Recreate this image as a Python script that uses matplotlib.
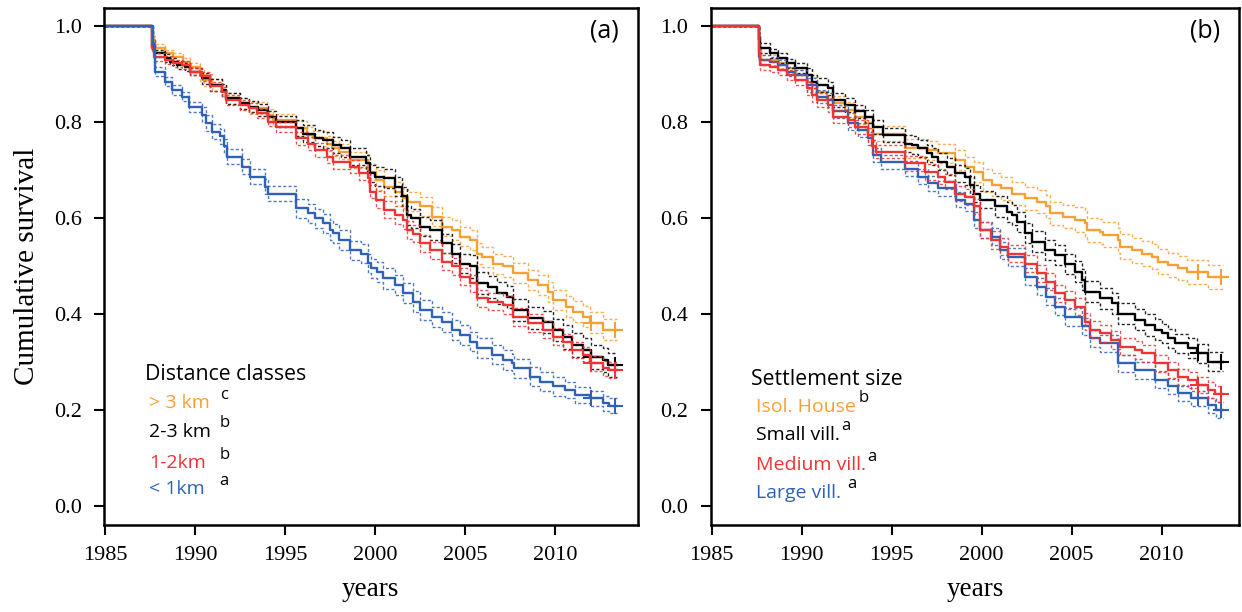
import numpy as np
import matplotlib
matplotlib.use("Agg")
import matplotlib.pyplot as plt

# Kaplan-Meier step curves: (year, survival) at each drop
# panel (a): distance classes
a_far_t = [1985, 1987.57, 1987.65, 1987.75, 1988.3, 1988.77, 1989.3, 1989.7, 1990.25, 1990.5, 1990.9,
           1991.45, 1991.7, 1992.47, 1993.0, 1993.95, 1994.3, 1995.6, 1996.2, 1996.55, 1997.3, 1997.56,
           1998.0, 1998.6, 1999.6, 2000.05, 2000.5, 2001.08, 2001.54, 2001.8, 2002.47, 2003.12, 2003.68,
           2004.23, 2004.7, 2005.25, 2005.62, 2005.9, 2006.55, 2007.1, 2007.66, 2008.5, 2009.05, 2009.6,
           2009.88, 2010.6, 2011.0, 2011.55, 2011.92, 2012.66, 2013.4]
a_far_s = [1.0, 0.985, 0.971, 0.954, 0.943, 0.936, 0.926, 0.915, 0.898, 0.888, 0.877,
           0.867, 0.849, 0.839, 0.829, 0.815, 0.804, 0.787, 0.773, 0.766, 0.755, 0.745,
           0.738, 0.721, 0.696, 0.679, 0.665, 0.655, 0.641, 0.634, 0.624, 0.603, 0.582,
           0.575, 0.561, 0.554, 0.526, 0.519, 0.505, 0.499, 0.485, 0.471, 0.460, 0.446,
           0.429, 0.415, 0.405, 0.394, 0.382, 0.367, 0.367]

a_mid_t = [1985, 1987.6, 1987.72, 1988.3, 1988.6, 1988.95, 1989.4, 1989.7, 1990.34, 1990.8, 1991.45,
           1991.7, 1992.47, 1993.0, 1993.5, 1994.05, 1994.5, 1995.6, 1996.0, 1996.64, 1997.1, 1997.65,
           1998.1, 1998.6, 1999.5, 1999.7, 2000.0, 2000.5, 2001.08, 2001.45, 2001.73, 2002.0, 2002.47,
           2003.03, 2003.68, 2004.23, 2004.7, 2005.25, 2005.62, 2006.27, 2006.73, 2007.29, 2007.66,
           2008.5, 2009.32, 2009.88, 2010.43, 2010.9, 2011.55, 2012.0, 2012.66, 2012.93, 2013.4]
a_mid_s = [1.0, 0.957, 0.943, 0.933, 0.926, 0.919, 0.915, 0.905, 0.891, 0.877, 0.867,
           0.849, 0.839, 0.832, 0.825, 0.811, 0.801, 0.787, 0.776, 0.766, 0.762, 0.752,
           0.745, 0.728, 0.714, 0.693, 0.686, 0.683, 0.665, 0.645, 0.606, 0.599, 0.582,
           0.575, 0.547, 0.526, 0.505, 0.499, 0.464, 0.457, 0.443, 0.436, 0.408,
           0.391, 0.384, 0.367, 0.353, 0.335, 0.325, 0.311, 0.304, 0.294, 0.294]

a_near_t = [1985, 1987.6, 1987.72, 1988.3, 1988.77, 1989.23, 1989.7, 1990.34, 1990.8, 1991.45, 1991.7,
            1992.47, 1993.0, 1993.4, 1994.05, 1994.5, 1995.6, 1996.27, 1996.64, 1997.3, 1997.65, 1998.6,
            1999.1, 1999.6, 1999.7, 2000.05, 2000.5, 2001.08, 2001.54, 2001.73, 2002.1, 2002.47, 2003.03,
            2003.68, 2004.23, 2004.7, 2005.25, 2005.62, 2006.27, 2007.1, 2007.66, 2008.5, 2009.32,
            2009.88, 2010.43, 2010.9, 2011.55, 2011.92, 2012.66, 2013.0, 2013.4]
a_near_s = [1.0, 0.954, 0.936, 0.929, 0.922, 0.919, 0.905, 0.895, 0.874, 0.863, 0.846,
            0.835, 0.829, 0.818, 0.801, 0.790, 0.766, 0.755, 0.742, 0.728, 0.717, 0.707,
            0.693, 0.683, 0.655, 0.638, 0.617, 0.606, 0.596, 0.575, 0.567, 0.547, 0.533,
            0.509, 0.499, 0.478, 0.464, 0.433, 0.426, 0.419, 0.394, 0.381, 0.367,
            0.353, 0.342, 0.325, 0.315, 0.297, 0.287, 0.283, 0.283]

a_close_t = [1985, 1987.62, 1987.75, 1988.3, 1988.68, 1989.23, 1989.66, 1990.34, 1990.6, 1990.9, 1991.36,
             1991.6, 1991.77, 1992.57, 1993.03, 1993.86, 1994.05, 1995.6, 1996.27, 1996.64, 1997.1,
             1997.47, 1997.65, 1998.0, 1998.6, 1999.2, 1999.6, 1999.75, 2000.1, 2000.43, 2001.08,
             2001.54, 2002.1, 2002.47, 2003.12, 2003.68, 2004.23, 2004.7, 2005.25, 2005.62, 2006.46,
             2007.1, 2007.57, 2007.7, 2008.58, 2009.14, 2009.88, 2010.53, 2011.08, 2011.92, 2012.66,
             2013.0, 2013.4]
a_close_s = [1.0, 0.960, 0.905, 0.884, 0.867, 0.853, 0.831, 0.815, 0.798, 0.780, 0.770,
             0.749, 0.728, 0.707, 0.686, 0.665, 0.651, 0.620, 0.610, 0.599, 0.589,
             0.575, 0.568, 0.554, 0.533, 0.526, 0.506, 0.495, 0.488, 0.474, 0.460,
             0.443, 0.426, 0.408, 0.394, 0.384, 0.367, 0.356, 0.342, 0.329, 0.315,
             0.304, 0.297, 0.287, 0.269, 0.259, 0.249, 0.242, 0.231, 0.224, 0.214,
             0.209, 0.209]

# panel (b): settlement size
b_isol_t = [1985, 1987.6, 1987.68, 1987.75, 1988.7, 1989.17, 1989.63, 1990.28, 1990.56, 1990.83, 1991.4,
            1991.76, 1992.4, 1992.96, 1993.5, 1993.98, 1995.74, 1997.0, 1997.59, 1998.5, 1999.07,
            1999.6, 2000.05, 2000.55, 2001.1, 2001.67, 2002.4, 2003.06, 2003.6, 2003.8, 2004.53,
            2005.18, 2005.74, 2005.85, 2006.57, 2006.76, 2007.59, 2007.7, 2008.33, 2008.89, 2009.44,
            2009.8, 2010.37, 2010.92, 2011.39, 2012.59, 2013.4]
b_isol_s = [1.0, 0.971, 0.950, 0.929, 0.922, 0.912, 0.898, 0.884, 0.877, 0.863, 0.846,
            0.839, 0.825, 0.811, 0.797, 0.776, 0.745, 0.741, 0.735, 0.721, 0.707,
            0.696, 0.679, 0.669, 0.662, 0.651, 0.641, 0.634, 0.624, 0.610, 0.603,
            0.596, 0.589, 0.575, 0.571, 0.565, 0.554, 0.540, 0.533, 0.526, 0.519,
            0.509, 0.502, 0.495, 0.488, 0.478, 0.478]

b_small_t = [1985, 1987.6, 1987.7, 1988.24, 1988.7, 1989.17, 1989.63, 1990.28, 1990.56, 1990.83, 1991.48,
             1991.76, 1992.4, 1992.96, 1993.5, 1993.98, 1994.53, 1995.74, 1996.1, 1996.48, 1996.94,
             1997.22, 1997.59, 1998.06, 1998.5, 1999.07, 1999.35, 1999.6, 1999.9, 2000.74, 2001.39,
             2001.67, 2001.94, 2002.4, 2002.78, 2003.52, 2004.07, 2004.63, 2005.18, 2005.56, 2005.74,
             2006.57, 2007.22, 2007.59, 2008.52, 2009.07, 2009.63, 2010.0, 2010.37, 2010.74, 2011.48,
             2011.94, 2012.59, 2013.4]
b_small_s = [1.0, 0.971, 0.954, 0.943, 0.933, 0.922, 0.912, 0.898, 0.884, 0.877, 0.870,
             0.846, 0.835, 0.822, 0.811, 0.790, 0.773, 0.755, 0.752, 0.745, 0.735,
             0.728, 0.717, 0.707, 0.693, 0.686, 0.669, 0.651, 0.638, 0.624, 0.613,
             0.606, 0.592, 0.568, 0.551, 0.533, 0.523, 0.505, 0.488, 0.471, 0.446,
             0.433, 0.422, 0.401, 0.388, 0.377, 0.367, 0.360, 0.349, 0.339, 0.329,
             0.318, 0.301, 0.301]

b_medium_t = [1985, 1987.6, 1987.7, 1988.24, 1988.7, 1989.17, 1989.63, 1990.28, 1990.56, 1990.83, 1991.48,
              1991.76, 1992.57, 1992.96, 1993.7, 1993.9, 1994.15, 1995.74, 1996.85, 1997.59, 1997.96,
              1998.5, 1999.07, 1999.6, 1999.9, 2000.5, 2001.0, 2001.46, 2002.4, 2003.06, 2003.6,
              2004.07, 2004.63, 2005.18, 2005.74, 2006.0, 2006.6, 2007.2, 2007.67, 2008.5, 2008.89,
              2009.63, 2010.37, 2010.92, 2011.48, 2011.94, 2012.59, 2012.96, 2013.4]
b_medium_s = [1.0, 0.943, 0.919, 0.915, 0.908, 0.898, 0.888, 0.870, 0.856, 0.846, 0.835,
              0.811, 0.804, 0.790, 0.773, 0.749, 0.738, 0.714, 0.696, 0.686, 0.676,
              0.651, 0.644, 0.624, 0.575, 0.554, 0.540, 0.526, 0.505, 0.485, 0.467,
              0.443, 0.429, 0.415, 0.384, 0.367, 0.360, 0.346, 0.332, 0.325, 0.318,
              0.297, 0.283, 0.269, 0.263, 0.252, 0.242, 0.234, 0.234]

b_large_t = [1985, 1987.6, 1987.7, 1988.24, 1988.7, 1989.17, 1989.63, 1990.28, 1990.83, 1991.48, 1991.76,
             1992.57, 1993.15, 1993.7, 1993.98, 1994.4, 1995.74, 1996.48, 1997.04, 1997.59, 1998.6,
             1999.07, 1999.6, 1999.9, 2000.55, 2001.0, 2001.46, 2002.4, 2003.06, 2003.6, 2004.07,
             2004.63, 2005.56, 2006.0, 2006.6, 2007.6, 2008.5, 2009.63, 2010.37, 2010.92, 2011.66,
             2012.59, 2013.0, 2013.4]
b_large_s = [1.0, 0.936, 0.929, 0.926, 0.919, 0.905, 0.898, 0.877, 0.853, 0.846, 0.822,
             0.797, 0.783, 0.766, 0.731, 0.717, 0.703, 0.686, 0.672, 0.662, 0.638,
             0.630, 0.596, 0.575, 0.561, 0.533, 0.519, 0.478, 0.457, 0.436, 0.415,
             0.394, 0.374, 0.349, 0.339, 0.297, 0.283, 0.263, 0.249, 0.235, 0.224,
             0.210, 0.200, 0.200]

# half-width of the 95% band, read at these years (holds until the next one)
band_years = [1985, 1990, 1995, 2000, 2005, 2010]
a_far_band = [0.008, 0.012, 0.016, 0.020, 0.021, 0.022]
a_mid_band = [0.008, 0.012, 0.017, 0.020, 0.023, 0.025]
a_near_band = [0.008, 0.010, 0.014, 0.018, 0.018, 0.016]
a_close_band = [0.010, 0.016, 0.020, 0.021, 0.020, 0.016]
b_isol_band = [0.010, 0.016, 0.020, 0.024, 0.026, 0.025]
b_small_band = [0.010, 0.014, 0.018, 0.021, 0.022, 0.020]
b_medium_band = [0.010, 0.014, 0.016, 0.018, 0.018, 0.017]
b_large_band = [0.010, 0.014, 0.016, 0.018, 0.018, 0.016]

# censoring marks at the end of follow-up
cens_years = [2012.0, 2013.3]

orange = "#F7A034"
black = "#000000"
red = "#EE3434"
blue = "#2F62B6"

serif = "Liberation Serif"
sans = "Open Sans"

fig = plt.figure(figsize=(12.42, 6.12), dpi=100)
ax_a = fig.add_axes([104 / 1242, 1 - 525 / 612, 533.5 / 1242, 517 / 612])
ax_b = fig.add_axes([710.7 / 1242, 1 - 525 / 612, 528.3 / 1242, 517 / 612])


def km_curve(ax, t, s, band, color):
    t = np.asarray(t)
    s = np.asarray(s)
    hw = np.asarray(band)[np.searchsorted(band_years, t, side="right") - 1]
    hw[0] = 0.0
    ax.step(t, s + hw, where="post", color=color, lw=1.0, ls=(0, (2.2, 1.6)), alpha=0.85)
    ax.step(t, s - hw, where="post", color=color, lw=1.0, ls=(0, (2.2, 1.6)), alpha=0.85)
    ax.step(t, s, where="post", color=color, lw=1.7)
    cy = s[np.searchsorted(t, cens_years, side="right") - 1]
    ax.plot(cens_years, cy, ls="none", marker="+", ms=11, mew=1.5, color=color)


km_curve(ax_a, a_far_t, a_far_s, a_far_band, orange)
km_curve(ax_a, a_mid_t, a_mid_s, a_mid_band, black)
km_curve(ax_a, a_near_t, a_near_s, a_near_band, red)
km_curve(ax_a, a_close_t, a_close_s, a_close_band, blue)

km_curve(ax_b, b_isol_t, b_isol_s, b_isol_band, orange)
km_curve(ax_b, b_small_t, b_small_s, b_small_band, black)
km_curve(ax_b, b_large_t, b_large_s, b_large_band, blue)
km_curve(ax_b, b_medium_t, b_medium_s, b_medium_band, red)

ax_a.set_xlim(1984.92, 2014.56)
ax_b.set_xlim(1984.94, 2014.3)
for ax in (ax_a, ax_b):
    ax.set_ylim(-0.0396, 1.0375)
    ax.set_xticks([1985, 1990, 1995, 2000, 2005, 2010])
    ax.set_yticks([0.0, 0.2, 0.4, 0.6, 0.8, 1.0])
    ax.set_yticklabels(["0.0", "0.2", "0.4", "0.6", "0.8", "1.0"])
    ax.tick_params(direction="out", length=7, width=1.5, labelsize=16)
    ax.tick_params(axis="x", pad=8)
    ax.tick_params(axis="y", pad=9)
    for lab in ax.get_xticklabels() + ax.get_yticklabels():
        lab.set_fontfamily(serif)
    for sp in ax.spines.values():
        sp.set_linewidth(1.8)
    ax.set_xlabel("years", family=serif, fontsize=19.5, labelpad=9)

ax_a.set_ylabel("Cumulative survival", family=serif, fontsize=21, labelpad=10)

ax_a.text(0.965, 0.955, "(a)", transform=ax_a.transAxes, ha="right", va="center",
          family=sans, fontsize=18)
ax_b.text(0.965, 0.955, "(b)", transform=ax_b.transAxes, ha="right", va="center",
          family=sans, fontsize=18)

# group legends with significance letters
leg_a = ["> 3 km", "2-3 km", "1-2km", "< 1km"]
sig_a = ["c", "b", "b", "a"]
leg_b = ["Isol. House", "Small vill.", "Medium vill.", "Large vill."]
sig_b = ["b", "a", "a", "a"]
cols = [orange, black, red, blue]

ax_a.text(1987.2, 0.273, "Distance classes", family=sans, fontsize=15.3, va="center")
for lab, sig, c, y in zip(leg_a, sig_a, cols, [0.214, 0.155, 0.09, 0.035]):
    ax_a.text(1987.43, y, lab, family=sans, fontsize=14, color=c, va="center")
    ax_a.text(1991.35, y + 0.017, sig, family=sans, fontsize=12, color="black", va="center")

ax_b.text(1987.2, 0.263, "Settlement size", family=sans, fontsize=15.3, va="center")
for lab, sig, c, y, xs in zip(leg_b, sig_b, cols, [0.207, 0.148, 0.085, 0.027],
                              [1993.15, 1992.2, 1993.65, 1992.55]):
    ax_b.text(1987.45, y, lab, family=sans, fontsize=14, color=c, va="center")
    ax_b.text(xs, y + 0.018, sig, family=sans, fontsize=12, color="black", va="center")

fig.savefig("out.png", dpi=100)
